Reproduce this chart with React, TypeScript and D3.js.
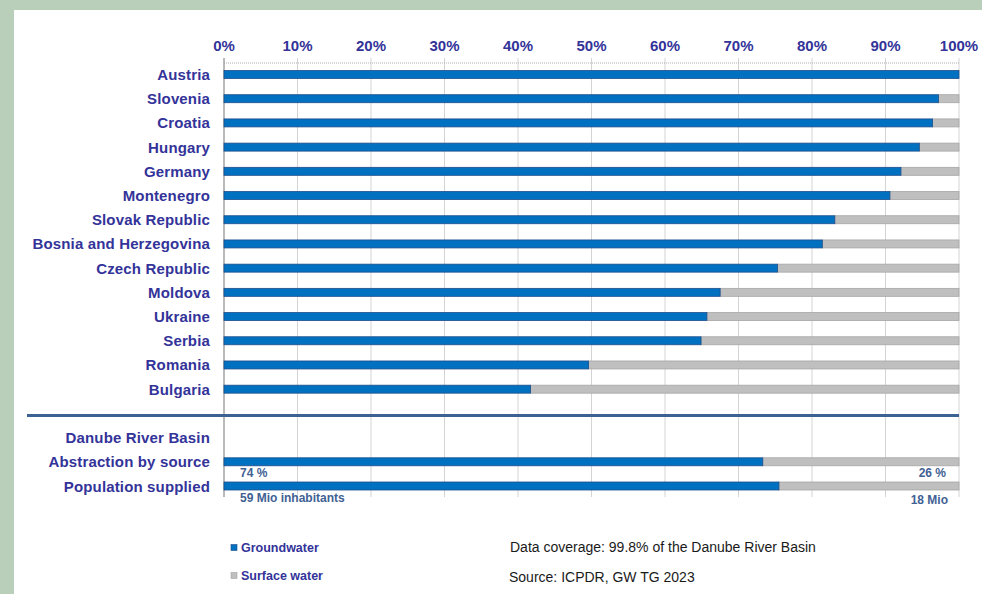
import React, { useEffect, useRef } from 'react';
import * as d3 from 'd3';

// country rows, top to bottom
const countries = [
  'Austria', 'Slovenia', 'Croatia', 'Hungary', 'Germany', 'Montenegro',
  'Slovak Republic', 'Bosnia and Herzegovina', 'Czech Republic', 'Moldova',
  'Ukraine', 'Serbia', 'Romania', 'Bulgaria',
];
// groundwater share in %, the rest is surface water
const groundwater = [100, 97.2, 96.4, 94.6, 92.1, 90.6, 83.1, 81.4, 75.3, 67.5, 65.7, 64.9, 49.6, 41.7];

// basin summary rows
const basinRows = ['Abstraction by source', 'Population supplied'];
const basinGroundwater = [73.3, 75.5];
const basinLeftNotes = ['74 %', '59 Mio inhabitants'];
const basinRightNotes = ['26 %', '18 Mio'];

const xTicks = [0, 10, 20, 30, 40, 50, 60, 70, 80, 90, 100];
const legendItems = ['Groundwater', 'Surface water'];

const NAVY = '#333399';
const BLUE = '#0070c0';
const GREY = '#bfbfbf';

function App() {
  const ref = useRef<SVGSVGElement | null>(null);

  useEffect(() => {
    const svg = d3.select(ref.current);
    svg.selectAll('*').remove();

    const width = 982, height = 594;
    const font = 'Liberation Sans, Arial, sans-serif';

    // frame
    svg.append('rect').attr('width', width).attr('height', height).attr('fill', '#b9cfb9');
    svg.append('rect').attr('x', 14).attr('y', 10).attr('width', width - 14).attr('height', height - 10).attr('fill', '#fff');

    const x = d3.scaleLinear().domain([0, 100]).range([224, 959]);

    // all row slots, one empty slot for the divider
    const slots = [...countries, '__sep', 'Danube River Basin', ...basinRows];
    const y = d3.scalePoint<string>().domain(slots).range([74.5, 486]);

    const top = 63, bottom = 497;

    // gridlines (with tick marks above the dotted line)
    svg.append('g')
      .selectAll('line')
      .data(xTicks.slice(1))
      .enter().append('line')
      .attr('x1', d => x(d)).attr('x2', d => x(d))
      .attr('y1', top - 5).attr('y2', bottom)
      .attr('stroke', '#d4d4d4').attr('stroke-width', 1);

    svg.append('line')
      .attr('x1', x(0)).attr('x2', x(100))
      .attr('y1', top).attr('y2', top)
      .attr('stroke', '#b0b0b0').attr('stroke-dasharray', '1,1');

    // tick labels
    svg.append('g')
      .selectAll('text')
      .data(xTicks)
      .enter().append('text')
      .attr('x', d => x(d)).attr('y', 50.5)
      .attr('text-anchor', 'middle')
      .attr('font-family', font).attr('font-weight', 'bold').attr('font-size', 15)
      .attr('fill', NAVY)
      .text(d => d + '%');

    // axis line
    svg.append('line')
      .attr('x1', x(0)).attr('x2', x(0))
      .attr('y1', top - 5).attr('y2', bottom)
      .attr('stroke', '#8c8c8c').attr('stroke-width', 1.2);

    // row labels
    svg.append('g')
      .selectAll('text')
      .data(slots.filter(s => s !== '__sep'))
      .enter().append('text')
      .attr('x', 210).attr('y', d => (y(d) as number) + 5.5)
      .attr('text-anchor', 'end')
      .attr('font-family', font).attr('font-weight', 'bold').attr('font-size', 15)
      .attr('letter-spacing', 0.15)
      .attr('fill', NAVY)
      .text(d => d);

    const barH = 8;
    const rows = countries.map((c, i) => ({ name: c, gw: groundwater[i] }))
      .concat(basinRows.map((c, i) => ({ name: c, gw: basinGroundwater[i] })));

    const bars = svg.append('g')
      .selectAll('g')
      .data(rows)
      .enter().append('g')
      .attr('transform', d => 'translate(0,' + ((y(d.name) as number) - barH / 2) + ')');

    // surface water
    bars.filter(d => d.gw < 100).append('rect')
      .attr('x', d => x(d.gw)).attr('y', 0)
      .attr('width', d => x(100) - x(d.gw)).attr('height', barH)
      .attr('fill', GREY).attr('stroke', '#a6a6a6').attr('stroke-width', 0.8);

    // groundwater
    bars.append('rect')
      .attr('x', x(0)).attr('y', 0)
      .attr('width', d => x(d.gw) - x(0)).attr('height', barH)
      .attr('fill', BLUE).attr('stroke', '#1f4e8c').attr('stroke-width', 0.8);

    // divider
    const sepY = (y('__sep') as number) + 2;
    svg.append('line')
      .attr('x1', 27).attr('x2', x(100))
      .attr('y1', sepY).attr('y2', sepY)
      .attr('stroke', '#3c6294').attr('stroke-width', 3);

    // basin notes
    basinRows.forEach((r, i) => {
      const yy = (y(r) as number) + 15.5;
      svg.append('text')
        .attr('x', 240).attr('y', yy)
        .attr('font-family', font).attr('font-weight', 'bold').attr('font-size', 12)
        .attr('fill', '#3f6193')
        .text(basinLeftNotes[i]);
      svg.append('text')
        .attr('x', i === 0 ? 946 : 948).attr('y', yy + (i === 1 ? 2 : 0))
        .attr('text-anchor', 'end')
        .attr('font-family', font).attr('font-weight', 'bold').attr('font-size', 12)
        .attr('fill', '#3f6193')
        .text(basinRightNotes[i]);
    });

    // legend
    const legend = svg.append('g')
      .selectAll('g')
      .data(legendItems)
      .enter().append('g')
      .attr('transform', (d, i) => 'translate(231,' + (544.5 + i * 28) + ')');
    legend.append('rect')
      .attr('width', 6).attr('height', 6)
      .attr('fill', (d, i) => i === 0 ? BLUE : GREY)
      .attr('stroke', (d, i) => i === 0 ? '#1f4e8c' : '#a6a6a6').attr('stroke-width', 0.6);
    legend.append('text')
      .attr('x', 10).attr('y', 7.5)
      .attr('font-family', font).attr('font-weight', 'bold').attr('font-size', 12.5)
      .attr('fill', NAVY)
      .text(d => d);

    // notes
    svg.append('text')
      .attr('x', 510).attr('y', 552)
      .attr('font-family', font).attr('font-size', 14).attr('fill', '#1a1a1a')
      .text('Data coverage: 99.8% of the Danube River Basin');
    svg.append('text')
      .attr('x', 509).attr('y', 582)
      .attr('font-family', font).attr('font-size', 14).attr('fill', '#1a1a1a')
      .text('Source: ICPDR, GW TG 2023');
  }, []);

  return (
    <svg ref={ref} width={982} height={594} style={{ position: 'absolute', left: 0, top: 0 }} />
  );
}

export default App;
